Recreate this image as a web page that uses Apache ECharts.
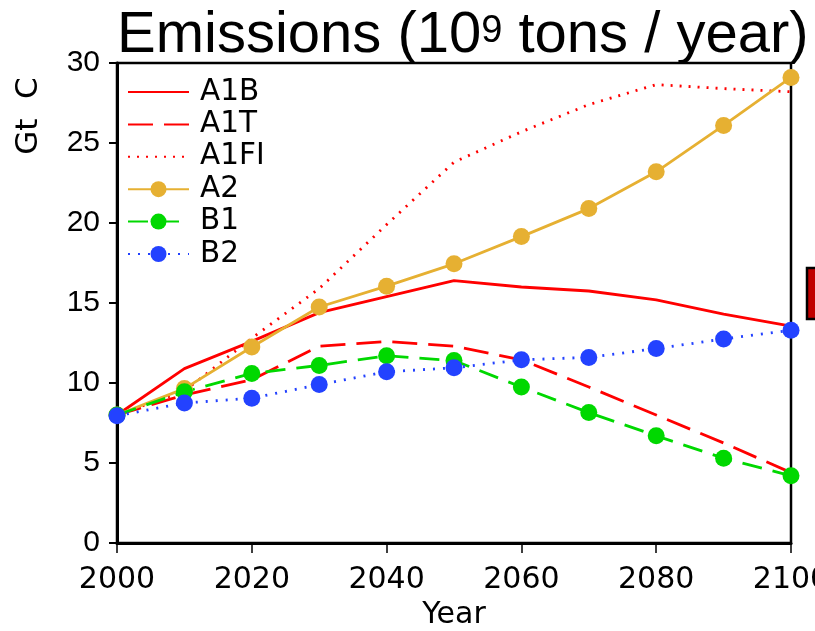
<!DOCTYPE html>
<html>
<head>
<meta charset="utf-8">
<script src="https://cdn.jsdelivr.net/npm/echarts@6/dist/echarts.min.js"></script>
<style>
  html, body { margin: 0; padding: 0; background: #fff; }
  #grafico { width: 815px; height: 631px; }
</style>
</head>
<body>
<div id="grafico"></div>
<script>
// Escenarios de emisiones (Gt C por año)
const anios = [2000, 2010, 2020, 2030, 2040, 2050, 2060, 2070, 2080, 2090, 2100];
const a1b  = [8.0, 10.9, 12.6, 14.4, 15.4, 16.4, 16.0, 15.75, 15.2, 14.3, 13.55];
const a1t  = [8.0, 9.25, 10.2, 12.3, 12.6, 12.3, 11.45, 9.75, 8.0, 6.25, 4.4];
const a1fi = [8.0, 9.5, 12.8, 15.9, 19.9, 23.8, 25.7, 27.4, 28.65, 28.4, 28.2];
const a2   = [8.0, 9.65, 12.25, 14.75, 16.05, 17.45, 19.15, 20.9, 23.2, 26.1, 29.1];
const b1   = [8.0, 9.45, 10.6, 11.1, 11.7, 11.4, 9.75, 8.15, 6.7, 5.3, 4.2];
const b2   = [7.95, 8.75, 9.05, 9.9, 10.7, 10.95, 11.45, 11.6, 12.15, 12.75, 13.3];
const ticksY = [0, 5, 10, 15, 20, 25, 30];

const ROJO = "#ff0000", NARANJA = "#e6b032", VERDE = "#00d800", AZUL = "#2342ff";

const pares = vals => anios.map((a, i) => [a, vals[i]]);

const linea = (nombre, vals, color, tipo, conMarca) => ({
  name: nombre,
  type: "line",
  data: pares(vals),
  symbol: conMarca ? "circle" : "none",
  symbolSize: 17,
  showSymbol: conMarca,
  // sin marca: el círculo de la leyenda queda transparente
  itemStyle: { color: conMarca ? color : "rgba(0,0,0,0)" },
  lineStyle: { color: color, width: 2.8, type: tipo, cap: "butt" },
  emphasis: { disabled: true },
  animation: false
});

const chart = echarts.init(document.getElementById("grafico"));

chart.setOption({
  backgroundColor: "#fff",
  animation: false,
  title: {
    text: "{m|Emissions (10}{s|9}{m| tons / year)}",
    left: 117,
    top: 13,
    padding: 0,
    textStyle: {
      fontWeight: "normal",
      rich: {
        m: { fontFamily: "Liberation Sans", fontWeight: "normal", fontSize: 58, lineHeight: 46, color: "#000" },
        s: { fontFamily: "Liberation Sans", fontWeight: "normal", fontSize: 38, lineHeight: 34, color: "#000", verticalAlign: "top" }
      }
    }
  },
  legend: {
    orient: "vertical",
    left: 127,
    top: 77,
    padding: 0,
    itemWidth: 61,
    itemHeight: 20,
    itemGap: 2.4,
    textStyle: { fontFamily: "DejaVu Sans", fontSize: 29.5, lineHeight: 30, color: "#000", padding: [0, 0, 0, 6] },
    data: ["A1B", "A1T", "A1FI", "A2", "B1", "B2"]
  },
  grid: {
    left: 117, right: 24, top: 63, bottom: 88,
    show: true, borderColor: "#000", borderWidth: 2.5,
    containLabel: false, outerBoundsMode: "none"
  },
  xAxis: {
    type: "value",
    min: 2000,
    max: 2100,
    interval: 20,
    name: "Year",
    nameLocation: "middle",
    nameGap: 53,
    nameTextStyle: { fontFamily: "DejaVu Sans", fontSize: 30, color: "#000" },
    axisLine: { show: true, lineStyle: { color: "#000", width: 3 } },
    axisTick: { show: true, inside: false, length: 10, lineStyle: { color: "#000", width: 1.5 } },
    axisLabel: {
      show: true, margin: 22, fontFamily: "DejaVu Sans", fontSize: 30, color: "#000",
      showMaxLabel: true, showMinLabel: true, hideOverlap: false,
      formatter: v => String(v)
    },
    splitLine: { show: false }
  },
  yAxis: {
    type: "value",
    min: ticksY[0],
    max: ticksY[ticksY.length - 1],
    interval: 5,
    axisLine: { show: true, lineStyle: { color: "#000", width: 3 } },
    axisTick: { show: true, inside: false, length: 8, lineStyle: { color: "#000", width: 2 } },
    axisLabel: { margin: 17, fontFamily: "Liberation Sans", fontSize: 30, color: "#000" },
    splitLine: { show: false }
  },
  graphic: [
    {
      type: "text",
      x: 29,
      y: 116,
      rotation: Math.PI / 2,
      style: { text: "Gt  C", font: "31px 'DejaVu Sans'", fill: "#000", align: "center", verticalAlign: "middle" }
    },
    {
      // recuadro rojo recortado en el borde derecho
      type: "rect",
      shape: { x: 807, y: 268, width: 20, height: 51 },
      style: { fill: "#c00000", stroke: "#000", lineWidth: 2.5 }
    }
  ],
  series: [
    linea("A1B", a1b, ROJO, "solid", false),
    linea("A1T", a1t, ROJO, [25, 11], false),
    linea("A1FI", a1fi, ROJO, [2, 7], false),
    linea("A2", a2, NARANJA, "solid", true),
    linea("B1", b1, VERDE, [20, 11], true),
    linea("B2", b2, AZUL, [2, 8], true)
  ]
});
</script>
</body>
</html>
